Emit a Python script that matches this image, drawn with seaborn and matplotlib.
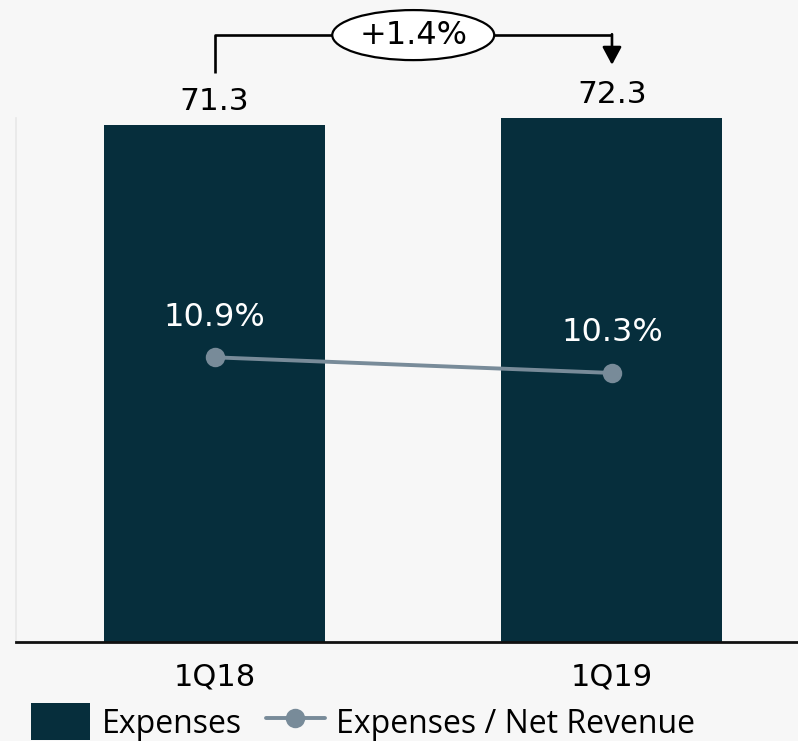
import matplotlib
matplotlib.use("Agg")
import matplotlib.pyplot as plt
from matplotlib.patches import Ellipse, Patch
from matplotlib.lines import Line2D
import seaborn as sns
import pandas as pd

# Quarterly expenses (R$ mn) and expenses as a share of net revenue (%)
quarters = ["1Q18", "1Q19"]
expenses = [71.3, 72.3]
expense_ratio = [10.9, 10.3]
growth_label = "+1.4%"
legend_labels = ["Expenses", "Expenses / Net Revenue"]

BAR = "#062E3C"
LINE = "#788B99"
BG = "#F7F7F7"
NUM_FONT = "DejaVu Sans"

sns.set_theme(style="white")
plt.rcParams["font.family"] = [NUM_FONT]
plt.rcParams["font.sans-serif"] = [NUM_FONT]
plt.rcParams["text.color"] = "black"

df = pd.DataFrame({"quarter": quarters, "expenses": expenses, "ratio": expense_ratio})

fig = plt.figure(figsize=(7.98, 7.41), dpi=100, facecolor=BG)
ax = fig.add_axes([16 / 798, 99 / 741, 782 / 798, 642 / 741])
ax.set_facecolor(BG)

sns.barplot(data=df, x="quarter", y="expenses", color=BAR, width=0.556,
            saturation=1, edgecolor="none", ax=ax)
ax.set_xlim(-0.4994, 1.468)
ax.set_ylim(0, 88.54)

for s in ("top", "right"):
    ax.spines[s].set_visible(False)
ax.spines["left"].set_color("#E8E8E8")
ax.spines["left"].set_linewidth(1.2)
ax.spines["left"].set_bounds(0, max(expenses))
ax.spines["bottom"].set_color("#111111")
ax.spines["bottom"].set_linewidth(2)
ax.set_yticks([])
ax.tick_params(axis="x", length=0, pad=14.5, labelsize=22, labelcolor="black")
for lbl in ax.get_xticklabels():
    lbl.set_fontfamily(NUM_FONT)

for i, v in enumerate(expenses):
    ax.annotate(f"{v:.1f}", (i, v), xytext=(0, 16.6), textcoords="offset points",
                ha="center", va="center", fontsize=22.5, color="black",
                fontfamily=NUM_FONT)

# Expense ratio on a secondary scale
ax2 = ax.twinx()
sns.lineplot(data=df, x="quarter", y="ratio", ax=ax2, color=LINE, marker="o",
             markersize=14, markeredgewidth=0, linewidth=2.8, sort=False)
ax2.set_ylim(0, 24.58)
ax2.set_yticks([])
ax2.set_ylabel("")
for s in ax2.spines.values():
    s.set_visible(False)
for i, v in enumerate(expense_ratio):
    ax2.annotate(f"{v:.1f}%", (i, v), xytext=(0, 28.8), textcoords="offset points",
                 ha="center", va="center", fontsize=23, color="white",
                 fontfamily=NUM_FONT)

ax.set_xlabel("")
ax.set_ylabel("")

# Growth bracket between the two bars
y_br = max(expenses) + 11.4
x_mid = 0.5
ell_w, ell_h = 0.4075, 6.9
kw = dict(color="black", lw=1.9, clip_on=False, solid_capstyle="butt")
ax.plot([0, 0, x_mid - ell_w / 2], [expenses[0] + 7.2, y_br, y_br], **kw)
ax.plot([x_mid + ell_w / 2, 1], [y_br, y_br], **kw)
ax.annotate("", xy=(1, expenses[1] + 7.3), xytext=(1, y_br + 0.12),
            arrowprops=dict(arrowstyle="-|>,head_length=0.54,head_width=0.29",
                            color="black", lw=1.9, shrinkA=0, shrinkB=0,
                            mutation_scale=20),
            annotation_clip=False)
ax.add_patch(Ellipse((x_mid, y_br), ell_w, ell_h, facecolor="white",
                     edgecolor="black", lw=1.6, clip_on=False, zorder=5))
ax.text(x_mid, y_br, growth_label, ha="center", va="center", fontsize=23,
        color="black", zorder=6, clip_on=False, fontfamily=NUM_FONT)

handles = [Patch(facecolor=BAR, edgecolor="none"),
           Line2D([], [], color=LINE, marker="o", markersize=14,
                  markeredgewidth=0, lw=2.8)]
fig.legend(handles, legend_labels, loc="center left",
           bbox_to_anchor=(31 / 798, 19 / 741), ncol=2, frameon=False,
           prop={"family": "Open Sans", "size": 23}, labelcolor="black",
           handlelength=1.85, handleheight=1.4, handletextpad=0.36,
           columnspacing=0.75, borderpad=0, borderaxespad=0)

fig.savefig("out.png", dpi=100, facecolor=BG)
